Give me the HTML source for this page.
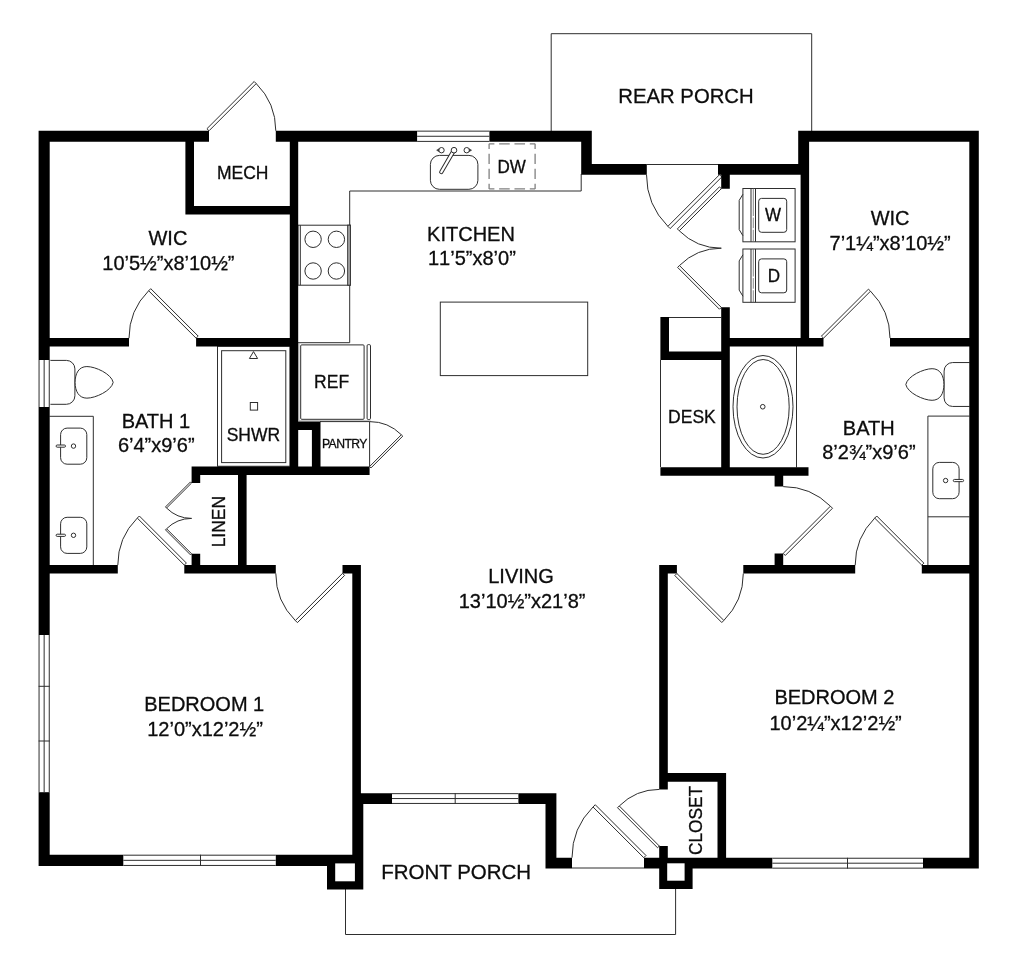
<!DOCTYPE html>
<html lang="en">
<head>
<meta charset="utf-8">
<title>Floor Plan</title>
<style>
html,body{margin:0;padding:0;background:#fff;}
body{width:1024px;height:958px;overflow:hidden;}
svg{display:block;will-change:transform;}
svg text{font-family:"Liberation Sans",sans-serif;fill:#0c0c0c;stroke:#0c0c0c;stroke-width:0.3px;}
</style>
</head>
<body>
<svg width="1024" height="958" viewBox="0 0 1024 958">
<rect x="0" y="0" width="1024" height="958" fill="#fff"/>
<path d="M551.20 131.00 L551.20 33.70 L811.70 33.70 L811.70 131.00" fill="none" stroke="#2e2e2e" stroke-width="1.0" />
<path d="M345.50 889.00 L345.50 934.50 L675.60 934.50 L675.60 888.00" fill="none" stroke="#2e2e2e" stroke-width="1.0" />
<path d="M572.00 868.00 L644.00 868.00" fill="none" stroke="#2e2e2e" stroke-width="1.0" />
<path d="M298.00 342.70 L349.70 342.70 L349.70 191.00 L581.20 191.00 L581.20 174.00" fill="none" stroke="#2e2e2e" stroke-width="1.0" />
<rect x="298.00" y="225.20" width="52.30" height="60.00" rx="0" fill="#fff" stroke="#2e2e2e" stroke-width="1.0" />
<rect x="347.70" y="225.20" width="2.60" height="60.00" rx="0" fill="#b5b5b5" stroke="#2e2e2e" stroke-width="1.0" />
<path d="M300.30 225.20 L300.30 285.20" fill="none" stroke="#2e2e2e" stroke-width="1.0" />
<circle cx="313.10" cy="239.30" r="8.20" fill="none" stroke="#2e2e2e" stroke-width="1.0"/>
<circle cx="313.10" cy="271.00" r="8.20" fill="none" stroke="#2e2e2e" stroke-width="1.0"/>
<circle cx="336.40" cy="239.30" r="8.20" fill="none" stroke="#2e2e2e" stroke-width="1.0"/>
<circle cx="336.40" cy="271.00" r="8.20" fill="none" stroke="#2e2e2e" stroke-width="1.0"/>
<rect x="440.30" y="302.10" width="147.40" height="73.50" rx="0" fill="none" stroke="#2e2e2e" stroke-width="1.0" />
<rect x="430.40" y="155.40" width="47.50" height="33.90" rx="9" fill="none" stroke="#2e2e2e" stroke-width="1.0" />
<circle cx="441.50" cy="150.20" r="2.70" fill="none" stroke="#2e2e2e" stroke-width="1.0"/>
<circle cx="466.70" cy="150.20" r="2.70" fill="none" stroke="#2e2e2e" stroke-width="1.0"/>
<path d="M438.80 148.80 L436.60 150.20 L438.80 151.60 Z" fill="#2e2e2e" stroke="#2e2e2e" stroke-width="0.5" />
<path d="M469.40 148.80 L471.60 150.20 L469.40 151.60 Z" fill="#2e2e2e" stroke="#2e2e2e" stroke-width="0.5" />
<path d="M454.00 150.20 L441.30 172.00" fill="none" stroke="#2e2e2e" stroke-width="4.3" stroke-linecap="round"/>
<path d="M454.00 150.20 L441.30 172.00" fill="none" stroke="#fff" stroke-width="2.3" stroke-linecap="round"/>
<circle cx="454.00" cy="150.20" r="2.80" fill="#fff" stroke="#2e2e2e" stroke-width="1.0"/>
<path d="M489.10 143.80 L535.10 143.80" fill="none" stroke="#808080" stroke-width="1.3" stroke-dasharray="10.6 4.73" stroke-dashoffset="5.3"/>
<path d="M489.10 188.90 L535.10 188.90" fill="none" stroke="#808080" stroke-width="1.3" stroke-dasharray="10.6 4.73" stroke-dashoffset="5.3"/>
<path d="M489.10 143.80 L489.10 188.90" fill="none" stroke="#808080" stroke-width="1.3" stroke-dasharray="10.4 4.63" stroke-dashoffset="5.2"/>
<path d="M535.10 143.80 L535.10 188.90" fill="none" stroke="#808080" stroke-width="1.3" stroke-dasharray="10.4 4.63" stroke-dashoffset="5.2"/>
<path d="M298.90 343.00 L298.90 420.80 L370.50 420.80" fill="none" stroke="#9a9a9a" stroke-width="0.8" />
<rect x="300.70" y="344.90" width="63.40" height="74.40" rx="1" fill="none" stroke="#2e2e2e" stroke-width="1.0" />
<rect x="367.10" y="344.60" width="3.40" height="74.90" rx="1.2" fill="none" stroke="#2e2e2e" stroke-width="1.0" />
<path d="M320.00 421.60 L369.60 421.60 L369.60 466.50" fill="none" stroke="#2e2e2e" stroke-width="1.0" />
<rect x="217.50" y="346.25" width="72.50" height="120.00" rx="0" fill="none" stroke="#2e2e2e" stroke-width="1.0" />
<rect x="221.60" y="350.70" width="64.20" height="111.90" rx="0" fill="none" stroke="#2e2e2e" stroke-width="1.0" />
<path d="M253.50 351.60 L257.60 358.50 L249.40 358.50 Z" fill="none" stroke="#2e2e2e" stroke-width="1.0" />
<rect x="250.30" y="402.50" width="7.30" height="7.60" rx="0" fill="none" stroke="#2e2e2e" stroke-width="1.0" />
<path d="M49.50 416.30 L93.30 416.30 L93.30 565.00" fill="none" stroke="#2e2e2e" stroke-width="1.0" />
<rect x="60.60" y="428.10" width="26.20" height="36.10" rx="6.5" fill="none" stroke="#2e2e2e" stroke-width="1.0" />
<circle cx="73.50" cy="446.10" r="2.20" fill="none" stroke="#2e2e2e" stroke-width="1.0"/>
<rect x="56.10" y="445.00" width="9.40" height="2.20" rx="1.1" fill="#fff" stroke="#2e2e2e" stroke-width="1.0" />
<rect x="60.60" y="517.30" width="26.20" height="36.10" rx="6.5" fill="none" stroke="#2e2e2e" stroke-width="1.0" />
<circle cx="73.50" cy="535.30" r="2.20" fill="none" stroke="#2e2e2e" stroke-width="1.0"/>
<rect x="56.10" y="534.20" width="9.40" height="2.20" rx="1.1" fill="#fff" stroke="#2e2e2e" stroke-width="1.0" />
<path d="M49.40 360.40 L66.40 360.40 A8.5 8.5 0 0 1 74.90 368.90 L74.90 395.80 A8.5 8.5 0 0 1 66.40 404.30 L49.40 404.30" fill="#fff" stroke="#2e2e2e" stroke-width="1.0" />
<path d="M75.10 382.35 C75.10 373.35 78.90 366.55 86.90 366.55 C95.40 366.55 111.40 373.85 113.20 382.35 C111.40 390.85 95.40 398.15 86.90 398.15 C78.90 398.15 75.10 391.35 75.10 382.35 Z" fill="#fff" stroke="#2e2e2e" stroke-width="1.0" stroke-linejoin="round"/>
<path d="M969.50 416.10 L927.90 416.10 L927.90 565.00" fill="none" stroke="#2e2e2e" stroke-width="1.0" />
<path d="M927.90 516.80 L969.50 516.80" fill="none" stroke="#2e2e2e" stroke-width="1.0" />
<rect x="932.80" y="462.40" width="26.30" height="36.30" rx="6.5" fill="none" stroke="#2e2e2e" stroke-width="1.0" />
<circle cx="945.60" cy="480.55" r="2.20" fill="none" stroke="#2e2e2e" stroke-width="1.0"/>
<rect x="953.30" y="479.45" width="10.30" height="2.20" rx="1.1" fill="#fff" stroke="#2e2e2e" stroke-width="1.0" />
<path d="M969.60 362.55 L952.60 362.55 A8.5 8.5 0 0 0 944.10 371.05 L944.10 397.95 A8.5 8.5 0 0 0 952.60 406.45 L969.60 406.45" fill="#fff" stroke="#2e2e2e" stroke-width="1.0" />
<path d="M943.90 384.50 C943.90 375.50 940.10 368.70 932.10 368.70 C923.60 368.70 907.60 376.00 905.80 384.50 C907.60 393.00 923.60 400.30 932.10 400.30 C940.10 400.30 943.90 393.50 943.90 384.50 Z" fill="#fff" stroke="#2e2e2e" stroke-width="1.0" stroke-linejoin="round"/>
<path d="M796.50 346.00 L796.50 467.50" fill="none" stroke="#2e2e2e" stroke-width="1.0" />
<ellipse cx="763.00" cy="406.75" rx="30.00" ry="51.25" fill="none" stroke="#2e2e2e" stroke-width="1.0"/>
<ellipse cx="763.10" cy="406.90" rx="26.10" ry="47.40" fill="none" stroke="#2e2e2e" stroke-width="1.0"/>
<circle cx="762.75" cy="406.75" r="2.30" fill="none" stroke="#2e2e2e" stroke-width="1.0"/>
<path d="M668.75 317.50 L721.25 317.50" fill="none" stroke="#2e2e2e" stroke-width="1.0" />
<path d="M660.50 360.00 L660.50 467.00" fill="none" stroke="#2e2e2e" stroke-width="1.0" />
<rect x="742.90" y="188.50" width="52.20" height="53.30" rx="0" fill="#fff" stroke="#2e2e2e" stroke-width="1.0" />
<rect x="758.70" y="198.40" width="28.00" height="33.90" rx="2.8" fill="none" stroke="#2e2e2e" stroke-width="1.0" />
<path d="M751.00 188.50 L751.00 241.80" fill="none" stroke="#2e2e2e" stroke-width="1.0" />
<path d="M755.50 188.50 L755.50 241.80" fill="none" stroke="#2e2e2e" stroke-width="1.0" />
<path d="M753.30 188.50 L753.30 241.80" fill="none" stroke="#6a6a6a" stroke-width="0.8" stroke-dasharray="27.5 1.6 10.6 1.6 12 0"/>
<path d="M742.90 194.30 L739.20 200.40 L739.20 229.60 L742.90 235.70" fill="none" stroke="#2e2e2e" stroke-width="1.0" />
<rect x="742.90" y="249.00" width="52.20" height="53.30" rx="0" fill="#fff" stroke="#2e2e2e" stroke-width="1.0" />
<rect x="758.70" y="258.90" width="28.00" height="33.90" rx="2.8" fill="none" stroke="#2e2e2e" stroke-width="1.0" />
<path d="M751.00 249.00 L751.00 302.30" fill="none" stroke="#2e2e2e" stroke-width="1.0" />
<path d="M755.50 249.00 L755.50 302.30" fill="none" stroke="#2e2e2e" stroke-width="1.0" />
<path d="M753.30 249.00 L753.30 302.30" fill="none" stroke="#6a6a6a" stroke-width="0.8" stroke-dasharray="27.5 1.6 10.6 1.6 12 0"/>
<path d="M742.90 254.80 L739.20 260.90 L739.20 290.10 L742.90 296.20" fill="none" stroke="#2e2e2e" stroke-width="1.0" />
<path d="M209.00 130.80 L256.23 83.57 L254.16 81.49 L206.92 128.72 Z" fill="#fff" stroke="#2e2e2e" stroke-width="1.0" />
<path d="M256.23 83.57 A66.80 66.80 0 0 1 275.80 130.80" fill="none" stroke="#2e2e2e" stroke-width="1.0" />
<path d="M196.10 338.20 L148.65 290.75 L150.74 288.67 L198.19 336.11 Z" fill="#fff" stroke="#2e2e2e" stroke-width="1.0" />
<path d="M148.65 290.75 A67.10 67.10 0 0 0 129.00 338.20" fill="none" stroke="#2e2e2e" stroke-width="1.0" />
<path d="M184.30 565.10 L137.28 518.08 L139.35 516.01 L186.37 563.03 Z" fill="#fff" stroke="#2e2e2e" stroke-width="1.0" />
<path d="M137.28 518.08 A66.50 66.50 0 0 0 117.80 565.10" fill="none" stroke="#2e2e2e" stroke-width="1.0" />
<path d="M342.50 573.40 L295.34 620.56 L297.41 622.64 L344.58 575.48 Z" fill="#fff" stroke="#2e2e2e" stroke-width="1.0" />
<path d="M295.34 620.56 A66.70 66.70 0 0 1 275.80 573.40" fill="none" stroke="#2e2e2e" stroke-width="1.0" />
<path d="M719.50 174.70 L667.88 226.32 L670.15 228.59 L721.77 176.97 Z" fill="#fff" stroke="#2e2e2e" stroke-width="1.0" />
<path d="M667.88 226.32 A73.00 73.00 0 0 1 646.50 174.70" fill="none" stroke="#2e2e2e" stroke-width="1.0" />
<path d="M646.80 164.50 L718.00 164.50" fill="none" stroke="#2e2e2e" stroke-width="1.0" />
<path d="M721.30 188.70 L679.23 230.77 L677.38 228.92 L719.45 186.85 Z" fill="#fff" stroke="#2e2e2e" stroke-width="1.0" />
<path d="M679.23 230.77 A59.50 59.50 0 0 0 721.30 248.20" fill="none" stroke="#2e2e2e" stroke-width="1.0" />
<path d="M721.30 307.40 L679.44 265.54 L677.60 267.38 L719.46 309.24 Z" fill="#fff" stroke="#2e2e2e" stroke-width="1.0" />
<path d="M679.44 265.54 A59.20 59.20 0 0 1 721.30 248.20" fill="none" stroke="#2e2e2e" stroke-width="1.0" />
<path d="M823.50 338.20 L870.52 291.18 L868.45 289.11 L821.43 336.13 Z" fill="#fff" stroke="#2e2e2e" stroke-width="1.0" />
<path d="M870.52 291.18 A66.50 66.50 0 0 1 890.00 338.20" fill="none" stroke="#2e2e2e" stroke-width="1.0" />
<path d="M783.20 553.40 L830.43 506.17 L832.51 508.24 L785.28 555.48 Z" fill="#fff" stroke="#2e2e2e" stroke-width="1.0" />
<path d="M830.43 506.17 A66.80 66.80 0 0 0 783.20 486.60" fill="none" stroke="#2e2e2e" stroke-width="1.0" />
<path d="M921.80 565.20 L874.71 518.11 L876.78 516.03 L923.87 563.13 Z" fill="#fff" stroke="#2e2e2e" stroke-width="1.0" />
<path d="M874.71 518.11 A66.60 66.60 0 0 0 855.20 565.20" fill="none" stroke="#2e2e2e" stroke-width="1.0" />
<path d="M676.90 573.50 L723.85 620.45 L721.79 622.52 L674.83 575.57 Z" fill="#fff" stroke="#2e2e2e" stroke-width="1.0" />
<path d="M723.85 620.45 A66.40 66.40 0 0 0 743.30 573.50" fill="none" stroke="#2e2e2e" stroke-width="1.0" />
<path d="M643.75 857.70 L593.02 806.97 L595.25 804.73 L645.98 855.47 Z" fill="#fff" stroke="#2e2e2e" stroke-width="1.0" />
<path d="M593.02 806.97 A71.75 71.75 0 0 0 572.00 857.70" fill="none" stroke="#2e2e2e" stroke-width="1.0" />
<path d="M659.30 846.00 L619.28 805.98 L617.52 807.74 L657.54 847.76 Z" fill="#fff" stroke="#2e2e2e" stroke-width="1.0" />
<path d="M619.28 805.98 A56.60 56.60 0 0 1 659.30 789.40" fill="none" stroke="#2e2e2e" stroke-width="1.0" />
<path d="M191.60 483.00 L166.57 508.03 L165.47 506.93 L190.50 481.90 Z" fill="#fff" stroke="#2e2e2e" stroke-width="1.0" />
<path d="M166.57 508.03 A35.40 35.40 0 0 0 191.60 518.40" fill="none" stroke="#2e2e2e" stroke-width="1.0" />
<path d="M191.60 553.80 L166.57 528.77 L165.47 529.87 L190.50 554.90 Z" fill="#fff" stroke="#2e2e2e" stroke-width="1.0" />
<path d="M166.57 528.77 A35.40 35.40 0 0 1 191.60 518.40" fill="none" stroke="#2e2e2e" stroke-width="1.0" />
<path d="M369.60 466.50 L401.35 434.75 L402.75 436.15 L371.00 467.90 Z" fill="#fff" stroke="#2e2e2e" stroke-width="1.0" />
<path d="M401.35 434.75 A44.90 44.90 0 0 0 369.60 421.60" fill="none" stroke="#2e2e2e" stroke-width="1.0" />
<path d="M38.60 130.70H49.70V865.90H38.60Z M38.60 130.70H209.00V141.85H38.60Z M275.80 130.70H591.80V141.85H275.80Z M581.20 130.70H591.80V174.80H581.20Z M581.20 164.10H646.80V174.80H581.20Z M718.00 164.10H809.10V174.80H718.00Z M798.20 130.70H809.10V174.80H798.20Z M798.20 130.70H978.80V141.85H798.20Z M969.30 130.70H978.80V868.60H969.30Z M644.00 857.80H978.80V868.60H644.00Z M545.50 857.80H572.00V868.60H545.50Z M545.50 793.20H556.40V868.60H545.50Z M352.30 793.20H556.40V803.90H352.30Z M352.30 793.20H363.30V889.50H352.30Z M38.60 854.75H363.00V865.90H38.60Z M327.00 854.75H363.30V889.50H327.00Z M659.20 857.80H692.60V889.00H659.20Z M185.40 140.85H194.00V214.50H185.40Z M185.40 205.90H298.00V214.50H185.40Z M289.80 140.85H298.20V474.80H289.80Z M48.70 338.00H129.00V346.60H48.70Z M196.10 338.00H298.00V346.60H196.10Z M191.60 466.50H369.60V475.10H191.60Z M191.60 466.50H200.20V483.00H191.60Z M191.60 553.80H200.20V566.00H191.60Z M238.00 474.00H246.60V566.00H238.00Z M48.70 564.90H117.80V573.50H48.70Z M184.30 564.90H275.80V573.50H184.30Z M342.50 564.90H360.90V573.50H342.50Z M352.30 565.00H360.90V794.00H352.30Z M298.00 421.40H320.50V430.00H298.00Z M311.90 421.40H320.50V467.00H311.90Z M660.40 317.00H669.00V360.00H660.40Z M660.40 351.40H722.00V360.00H660.40Z M721.20 307.20H729.80V475.50H721.20Z M721.20 174.00H729.80V188.80H721.20Z M721.20 338.00H823.50V346.60H721.20Z M800.60 174.00H809.10V346.00H800.60Z M890.00 338.00H970.30V346.60H890.00Z M660.40 467.20H808.50V475.80H660.40Z M774.60 475.00H783.20V486.60H774.60Z M774.60 553.40H783.20V566.00H774.60Z M743.30 565.00H855.20V573.60H743.30Z M921.80 565.00H970.30V573.60H921.80Z M659.20 565.00H676.90V573.60H659.20Z M659.20 565.00H667.80V789.40H659.20Z M659.20 773.10H726.00V781.70H659.20Z M717.50 773.10H726.10V858.80H717.50Z M659.20 846.00H667.80V858.80H659.20Z" fill="#000" fill-rule="nonzero"/>
<rect x="335.20" y="863.40" width="19.70" height="17.90" fill="#fff" />
<rect x="667.20" y="863.30" width="17.40" height="17.40" fill="#fff" />
<rect x="417.10" y="130.00" width="72.30" height="12.55" fill="#fff" />
<path d="M417.10 131.15 L489.40 131.15" fill="none" stroke="#2e2e2e" stroke-width="1.0" />
<path d="M417.10 136.27 L489.40 136.27" fill="none" stroke="#2e2e2e" stroke-width="1.0" />
<path d="M417.10 141.40 L489.40 141.40" fill="none" stroke="#2e2e2e" stroke-width="1.0" />
<rect x="37.90" y="360.00" width="12.50" height="47.00" fill="#fff" />
<path d="M39.05 360.00 L39.05 407.00" fill="none" stroke="#2e2e2e" stroke-width="1.0" />
<path d="M44.15 360.00 L44.15 407.00" fill="none" stroke="#2e2e2e" stroke-width="1.0" />
<path d="M49.25 360.00 L49.25 407.00" fill="none" stroke="#2e2e2e" stroke-width="1.0" />
<rect x="37.90" y="635.00" width="12.50" height="157.20" fill="#fff" />
<path d="M39.05 635.00 L39.05 792.20" fill="none" stroke="#2e2e2e" stroke-width="1.0" />
<path d="M44.15 635.00 L44.15 792.20" fill="none" stroke="#2e2e2e" stroke-width="1.0" />
<path d="M49.25 635.00 L49.25 792.20" fill="none" stroke="#2e2e2e" stroke-width="1.0" />
<path d="M38.60 686.30 L49.70 686.30" fill="none" stroke="#2e2e2e" stroke-width="1.0" />
<path d="M38.60 741.00 L49.70 741.00" fill="none" stroke="#2e2e2e" stroke-width="1.0" />
<rect x="123.30" y="854.05" width="152.50" height="12.55" fill="#fff" />
<path d="M123.30 855.20 L275.80 855.20" fill="none" stroke="#2e2e2e" stroke-width="1.0" />
<path d="M123.30 860.33 L275.80 860.33" fill="none" stroke="#2e2e2e" stroke-width="1.0" />
<path d="M123.30 865.45 L275.80 865.45" fill="none" stroke="#2e2e2e" stroke-width="1.0" />
<path d="M200.50 854.75 L200.50 865.90" fill="none" stroke="#2e2e2e" stroke-width="1.0" />
<rect x="392.00" y="792.50" width="126.40" height="12.10" fill="#fff" />
<path d="M392.00 793.65 L518.40 793.65" fill="none" stroke="#2e2e2e" stroke-width="1.0" />
<path d="M392.00 798.55 L518.40 798.55" fill="none" stroke="#2e2e2e" stroke-width="1.0" />
<path d="M392.00 803.45 L518.40 803.45" fill="none" stroke="#2e2e2e" stroke-width="1.0" />
<path d="M455.20 793.20 L455.20 803.90" fill="none" stroke="#2e2e2e" stroke-width="1.0" />
<rect x="772.30" y="857.10" width="150.70" height="12.20" fill="#fff" />
<path d="M772.30 858.25 L923.00 858.25" fill="none" stroke="#2e2e2e" stroke-width="1.0" />
<path d="M772.30 863.20 L923.00 863.20" fill="none" stroke="#2e2e2e" stroke-width="1.0" />
<path d="M772.30 868.15 L923.00 868.15" fill="none" stroke="#2e2e2e" stroke-width="1.0" />
<path d="M847.50 857.80 L847.50 868.60" fill="none" stroke="#2e2e2e" stroke-width="1.0" />
<text x="0" y="0" font-size="20.3" text-anchor="middle" transform="translate(686.00 103.00) scale(1 1.03)" >REAR PORCH</text>
<text x="0" y="0" font-size="17.5" text-anchor="middle" transform="translate(242.75 179.25) scale(1 1.03)" >MECH</text>
<text x="0" y="0" font-size="20" text-anchor="middle" transform="translate(167.90 245.00) scale(1 1.03)" >WIC</text>
<text x="0" y="0" font-size="20" text-anchor="middle" transform="translate(168.40 269.50) scale(1 1.03)" style="font-kerning:none">10’5½”x8’10½”</text>
<text x="0" y="0" font-size="20" text-anchor="middle" transform="translate(471.00 240.50) scale(1 1.03)" >KITCHEN</text>
<text x="0" y="0" font-size="20" text-anchor="middle" transform="translate(471.90 264.50) scale(1 1.03)" style="font-kerning:none">11’5”x8’0”</text>
<text x="0" y="0" font-size="17" text-anchor="middle" transform="translate(511.60 172.50) scale(1 1.03)" >DW</text>
<text x="0" y="0" font-size="17" text-anchor="middle" transform="translate(772.90 220.75) scale(1 1.03)" >W</text>
<text x="0" y="0" font-size="17" text-anchor="middle" transform="translate(773.80 282.00) scale(1 1.03)" >D</text>
<text x="0" y="0" font-size="20" text-anchor="middle" transform="translate(890.10 225.20) scale(1 1.03)" >WIC</text>
<text x="0" y="0" font-size="20" text-anchor="middle" transform="translate(890.10 249.50) scale(1 1.03)" style="font-kerning:none">7’1¼”x8’10½”</text>
<text x="0" y="0" font-size="17.5" text-anchor="middle" transform="translate(331.60 388.40) scale(1 1.03)" >REF</text>
<text x="0" y="0" font-size="17.5" text-anchor="middle" transform="translate(253.40 440.75) scale(1 1.03)" >SHWR</text>
<text x="0" y="0" font-size="12.2" text-anchor="middle" transform="translate(344.40 448.30) scale(1 1.03)" letter-spacing="-0.55">PANTRY</text>
<text x="0" y="0" font-size="20" text-anchor="middle" transform="translate(155.90 427.50) scale(1 1.03)" >BATH 1</text>
<text x="0" y="0" font-size="20" text-anchor="middle" transform="translate(156.25 452.00) scale(1 1.03)" style="font-kerning:none">6’4”x9’6”</text>
<text x="0" y="0" font-size="17.5" text-anchor="middle" transform="translate(691.90 422.70) scale(1 1.03)" >DESK</text>
<text x="0" y="0" font-size="20" text-anchor="middle" transform="translate(868.75 434.50) scale(1 1.03)" >BATH</text>
<text x="0" y="0" font-size="20" text-anchor="middle" transform="translate(868.90 458.70) scale(1 1.03)" style="font-kerning:none">8’2¾”x9’6”</text>
<text x="0" y="0" font-size="17.5" text-anchor="middle" transform="translate(225.00 521.60) rotate(-90) scale(1 1.03)" >LINEN</text>
<text x="0" y="0" font-size="20" text-anchor="middle" transform="translate(521.00 583.00) scale(1 1.03)" >LIVING</text>
<text x="0" y="0" font-size="20" text-anchor="middle" transform="translate(522.10 607.50) scale(1 1.03)" style="font-kerning:none">13’10½”x21’8”</text>
<text x="0" y="0" font-size="20" text-anchor="middle" transform="translate(204.25 711.30) scale(1 1.03)" >BEDROOM 1</text>
<text x="0" y="0" font-size="20" text-anchor="middle" transform="translate(205.00 736.20) scale(1 1.03)" style="font-kerning:none">12’0”x12’2½”</text>
<text x="0" y="0" font-size="20" text-anchor="middle" transform="translate(834.40 704.25) scale(1 1.03)" >BEDROOM 2</text>
<text x="0" y="0" font-size="20" text-anchor="middle" transform="translate(835.60 729.60) scale(1 1.03)" style="font-kerning:none">10’2¼”x12’2½”</text>
<text x="0" y="0" font-size="17.3" text-anchor="middle" transform="translate(702.20 820.40) rotate(-90) scale(1 1.03)" >CLOSET</text>
<text x="0" y="0" font-size="20.5" text-anchor="middle" transform="translate(456.20 878.90) scale(1 1.03)" >FRONT PORCH</text>
</svg>
</body>
</html>
